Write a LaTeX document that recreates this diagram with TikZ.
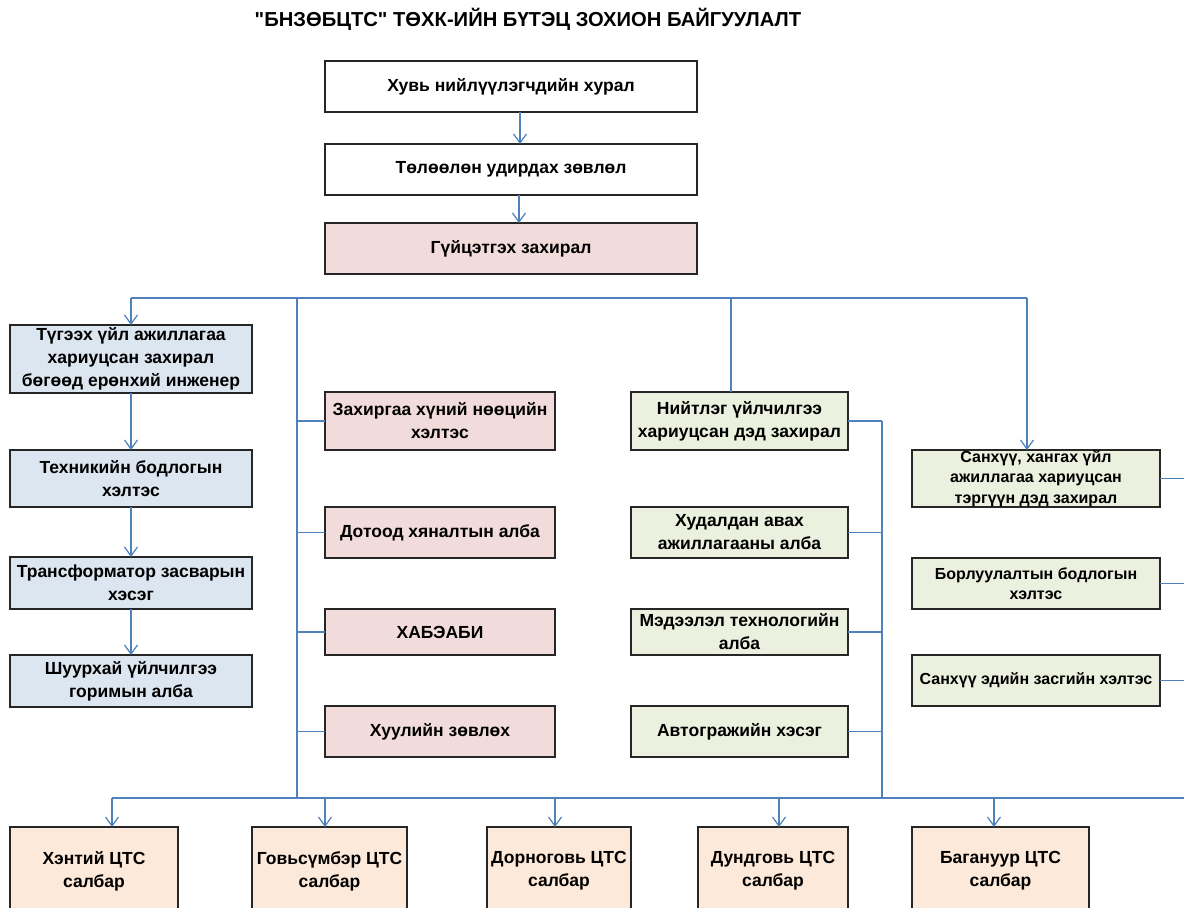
\documentclass[tikz,border=0pt]{standalone}
\usepackage{fontspec}
\setmainfont{Liberation Sans}[Ligatures=TeXOff]
\usetikzlibrary{arrows.meta,calc}
\definecolor{ln}{HTML}{4F81BD}
\definecolor{fpink}{HTML}{F2DCDB}
\definecolor{fblue}{HTML}{DCE6F1}
\definecolor{fgreen}{HTML}{EBF1DE}
\definecolor{forange}{HTML}{FDE9D9}
\begin{document}
\begin{tikzpicture}[x=1pt,y=-1pt,
  box/.style={draw=black!85, line width=1.3pt, align=center, inner sep=1.5pt, outer sep=0pt,
    anchor=north west, font=\bfseries\fontsize{17.5}{23}\selectfont},
  narrowtext/.style={font=\bfseries\fontsize{16}{20.5}\selectfont},
  conn/.style={draw=ln, line width=1.2pt},
  arr/.style={conn, -{Straight Barb[length=9pt,width=13pt]}}]
\fill[white] (0,0) rectangle (1184,908);
\useasboundingbox (0,0) rectangle (1184,908);
\begin{scope}
\clip (0,0) rectangle (1184,908);
% title
\node[font=\bfseries\fontsize{20.2}{22}\selectfont] (title) at (528,19) {"БНЗӨБЦТС" ТӨХК-ИЙН БҮТЭЦ ЗОХИОН БАЙГУУЛАЛТ};
% top chain
\node[box, fill=white, minimum width=372pt, minimum height=51pt] (h1) at (325,61) {Хувь нийлүүлэгчдийн хурал};
\node[box, fill=white, minimum width=372pt, minimum height=51pt] (h2) at (325,144) {Төлөөлөн удирдах зөвлөл};
\node[box, fill=fpink, minimum width=372pt, minimum height=51pt] (h3) at (325,223) {Гүйцэтгэх захирал};
% left column
\node[box, fill=fblue, minimum width=242pt, minimum height=68pt] (L1) at (10,325) {Түгээх үйл ажиллагаа\\хариуцсан захирал\\бөгөөд ерөнхий инженер};
\node[box, fill=fblue, minimum width=242pt, minimum height=57pt] (L2) at (10,450) {Техникийн бодлогын\\хэлтэс};
\node[box, fill=fblue, minimum width=242pt, minimum height=52pt] (L3) at (10,557) {Трансформатор засварын\\хэсэг};
\node[box, fill=fblue, minimum width=242pt, minimum height=52pt] (L4) at (10,655) {Шуурхай үйлчилгээ\\горимын алба};
% middle column
\node[box, fill=fpink, minimum width=230pt, minimum height=58pt] (M1) at (325,392) {Захиргаа хүний нөөцийн\\хэлтэс};
\node[box, fill=fpink, minimum width=230pt, minimum height=51pt] (M2) at (325,507) {Дотоод хяналтын алба};
\node[box, fill=fpink, minimum width=230pt, minimum height=46pt] (M3) at (325,609) {ХАБЭАБИ};
\node[box, fill=fpink, minimum width=230pt, minimum height=51pt] (M4) at (325,706) {Хуулийн зөвлөх};
% center-right column
\node[box, fill=fgreen, minimum width=217pt, minimum height=58pt] (C1) at (631,392) {Нийтлэг үйлчилгээ\\хариуцсан дэд захирал};
\node[box, fill=fgreen, minimum width=217pt, minimum height=51pt] (C2) at (631,507) {Худалдан авах\\ажиллагааны алба};
\node[box, fill=fgreen, minimum width=217pt, minimum height=46pt, inner ysep=0pt] (C3) at (631,609) {Мэдээлэл технологийн\\алба};
\node[box, fill=fgreen, minimum width=217pt, minimum height=51pt] (C4) at (631,706) {Автогражийн хэсэг};
% right column
\node[box, narrowtext, fill=fgreen, minimum width=248pt, minimum height=57pt, inner ysep=0pt] (R1) at (912,450) {Санхүү, хангах үйл\\ажиллагаа хариуцсан\\тэргүүн дэд захирал};
\node[box, narrowtext, fill=fgreen, minimum width=248pt, minimum height=51pt] (R2) at (912,558) {Борлуулалтын бодлогын\\хэлтэс};
\node[box, narrowtext, fill=fgreen, minimum width=248pt, minimum height=51pt] (R3) at (912,655) {Санхүү эдийн засгийн хэлтэс};
% bottom row
\node[box, fill=forange, minimum width=168pt, minimum height=88pt] (B1) at (10,827) {Хэнтий ЦТС\\салбар};
\node[box, fill=forange, minimum width=155pt, minimum height=88pt] (B2) at (252,827) {Говьсүмбэр ЦТС\\салбар};
\node[box, fill=forange, minimum width=144pt, minimum height=88pt] (B3) at (487,827) {Дорноговь ЦТС\\салбар};
\node[box, fill=forange, minimum width=150pt, minimum height=88pt] (B4) at (698,827) {Дундговь ЦТС\\салбар};
\node[box, fill=forange, minimum width=177pt, minimum height=88pt] (B5) at (912,827) {Багануур ЦТС\\салбар};
% connectors top chain
\draw[arr] ($(h1.south)+(9,0)$) -- ($(h2.north)+(9,0)$);
\draw[arr] ($(h2.south)+(8,0)$) -- ($(h3.north)+(8,0)$);
% top bus
\coordinate (tL) at (131,298);
\coordinate (tM) at (297,298);
\coordinate (tC) at (731,298);
\coordinate (tR) at (1027,298);
\coordinate (bM) at (297,798);
\coordinate (rV) at (882,798);
\coordinate (edge) at (1184,798);
\draw[conn] (tL) -- (tR);
\draw[arr] (tL) -- (L1.north);
\draw[arr] (tR) -- (tR |- R1.north);
\draw[conn] (tC) -- (tC |- C1.north);
\draw[conn] (tM) -- (bM);
% left chain
\draw[arr] (L1.south) -- (L2.north);
\draw[arr] (L2.south) -- (L3.north);
\draw[arr] (L3.south) -- (L4.north);
% middle branches
\foreach \n in {M1,M2,M3,M4} \draw[conn] (\n.west) -- (\n.west -| tM);
% center-right branches
\draw[conn] (C1.east -| rV) -- (rV);
\foreach \n in {C1,C2,C3,C4} \draw[conn] (\n.east) -- (\n.east -| rV);
% right branches
\foreach \n in {R1,R2,R3} \draw[conn] (\n.east) -- (\n.east -| edge);
% bottom bus
\coordinate (b1) at (112,798);
\coordinate (b2) at (325,798);
\coordinate (b3) at (555,798);
\coordinate (b4) at (779,798);
\coordinate (b5) at (994,798);
\draw[conn] (b1) -- (edge);
\draw[arr] (b1) -- (b1 |- B1.north);
\draw[arr] (b2) -- (b2 |- B2.north);
\draw[arr] (b3) -- (b3 |- B3.north);
\draw[arr] (b4) -- (b4 |- B4.north);
\draw[arr] (b5) -- (b5 |- B5.north);
\end{scope}
\end{tikzpicture}
\end{document}
